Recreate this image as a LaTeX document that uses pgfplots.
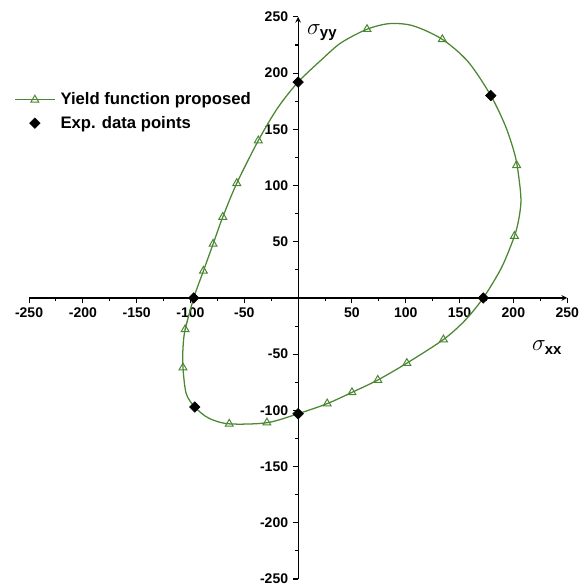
\documentclass[border=0pt]{standalone}
\usepackage{pgfplots}
\pgfplotsset{compat=1.18}
\usepackage{fontspec}
\setmainfont{Liberation Sans}
\definecolor{cgreen}{rgb}{0.30,0.53,0.20}
\begin{document}
\begin{tikzpicture}
\begin{axis}[
  scale only axis,
  width=403.5pt, height=421.5pt,
  xmin=-250, xmax=250, ymin=-250, ymax=250,
  axis lines=middle,
  axis line style={line width=0.9pt, black},
  xtick={-250,-200,...,250}, ytick={-250,-200,...,250},
  minor x tick num=1, minor y tick num=1,
  tick align=outside,
  major tick length=4pt, minor tick length=2.5pt,
  tick style={line width=0.8pt, black},
  /pgf/number format/assume math mode=true,
  ticklabel style={font=\fontsize{10.5}{12}\selectfont\bfseries},
  clip=false,
  legend style={at={(-0.035,0.875)}, anchor=north west, draw=none, fill=none,
    font=\fontsize{12.5}{14}\selectfont\bfseries, row sep=3pt,
    /tikz/every odd column/.append style={column sep=2pt}},
  legend cell align=left,
  legend image code/.code={\draw[mark repeat=2,mark phase=2,#1] plot coordinates {(0cm,0cm) (0.52cm,0cm) (1.04cm,0cm)};},
]
\addplot[cgreen, line width=0.95pt, smooth, forget plot] coordinates {
(-105,-28) (-97,0) (-88,24) (-79,48) (-70,72) (-57,102) (-37,140) (-19,169)
(0,192) (23,213) (40,227) (64,239) (85,244) (107,242) (134,230) (158,210) (179,180)
(193,152) (202,125) (206,100) (207,85) (205,70) (201,55) (189,27) (172,0) (155,-20)
(135,-37) (101,-58) (74,-73) (50,-84) (27,-94) (0,-103) (-29,-111) (-64,-112)
(-83,-107) (-96,-97) (-104,-85) (-107,-62) (-107,-45) (-105,-28) (-97,0)
};
\addplot[only marks, mark=triangle, mark size=3.4pt, cgreen, mark options={line width=0.75pt, fill=white}, forget plot] coordinates {
(64,239) (134,230) (203,118) (201,55) (135,-37) (101,-58) (74,-73) (50,-84)
(27,-94) (-29,-111) (-64,-112) (-107,-62) (-105,-28) (-88,24) (-79,48)
(-70,72) (-57,102) (-37,140)
};
\addlegendimage{cgreen, line width=0.95pt, mark=triangle, mark size=3.4pt, mark options={fill=white, line width=0.75pt}}
\addlegendentry{Yield function proposed}
\addplot[only marks, mark=square*, mark size=2.8pt, black, mark options={rotate=45}] coordinates {
(-97,0) (0,192) (179,180) (172,0) (-96,-97) (0,-103)
};
\addlegendentry{Exp. data points}
\node[anchor=west, font=\fontsize{16}{17}\selectfont] at (axis cs:4,236) {$\sigma_{\mathbf{yy}}$};
\node[anchor=west, font=\fontsize{16}{17}\selectfont] at (axis cs:213,-44) {$\sigma_{\mathbf{xx}}$};
\coordinate (bbsw) at (axis cs:-277,-258);
\coordinate (bbne) at (axis cs:264,265);
\end{axis}
\pgfresetboundingbox
\path[use as bounding box] (bbsw) rectangle (bbne);
\end{tikzpicture}
\end{document}
